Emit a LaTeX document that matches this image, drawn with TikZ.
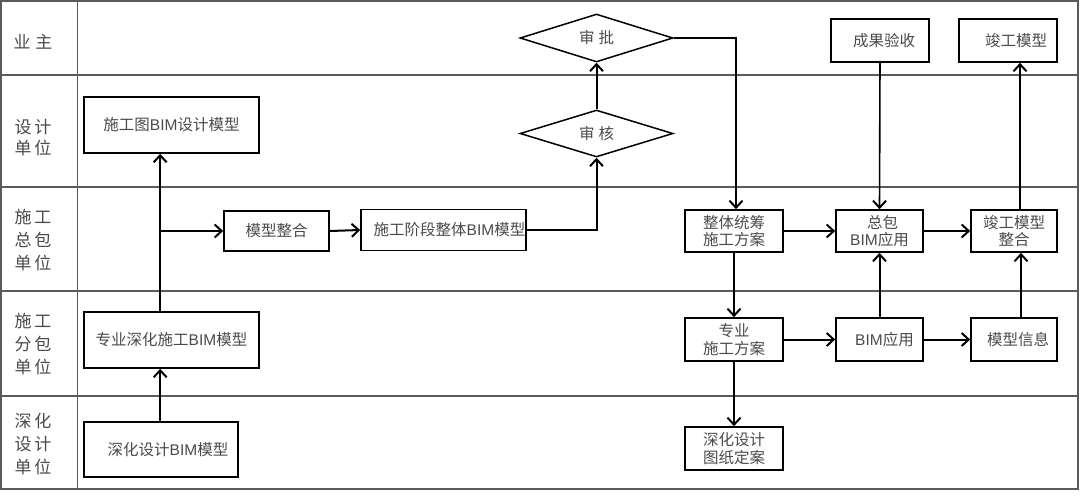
\documentclass[tikz,border=0pt]{standalone}
\usepackage{fontspec}
\setmainfont{Liberation Sans}
\newfontfamily\cjk{Noto Sans CJK SC}
\usetikzlibrary{arrows.meta,shapes.geometric}
\definecolor{txt}{HTML}{4A4A4A}
\definecolor{lane}{HTML}{5A5A5A}
\newcommand\bim{{\rmfamily BIM}}
\begin{document}
\begin{tikzpicture}[x=1pt,y=-1pt,
  bx/.style={draw=black, line width=1.7pt, inner sep=0pt, align=center,
    font=\cjk\fontsize{15.5}{19.5}\selectfont, text=txt},
  dm/.style={draw=black, line width=1.5pt, diamond, aspect=3.2, inner sep=0pt,
    font=\cjk\fontsize{15.5}{19}\selectfont, text=txt},
  arr/.style={line width=2pt, -{Straight Barb[length=7pt,width=13pt,line width=2pt]}},
  lanelbl/.style={align=center, font=\cjk\fontsize{17}{23}\selectfont, text=txt},
  laneline/.style={draw=lane, line width=1.2pt}]
\useasboundingbox (0,0) rectangle (1080,499);
% frame and lanes
\draw[laneline] (1,1) rectangle (1078,489);
\draw[laneline] (1,75) -- (1078,75);
\draw[laneline] (1,187) -- (1078,187);
\draw[laneline] (1,291) -- (1078,291);
\draw[laneline] (1,396) -- (1078,396);
\draw[laneline, line width=1pt] (77.5,1) -- (77.5,489);
% lane labels
\node[lanelbl] (l1) at (33,42) {业\hspace{5pt}主};
\node[lanelbl, font=\cjk\fontsize{17}{21}\selectfont] (l2) at (33,138) {设\hspace{3pt}计\\单\hspace{3pt}位};
\node[lanelbl] (l3) at (33,240) {施\hspace{3pt}工\\总\hspace{3pt}包\\单\hspace{3pt}位};
\node[lanelbl] (l4) at (33,344) {施\hspace{3pt}工\\分\hspace{3pt}包\\单\hspace{3pt}位};
\node[lanelbl] (l5) at (33,444) {深\hspace{3pt}化\\设\hspace{3pt}计\\单\hspace{3pt}位};
% boxes
\node[bx, minimum width=175pt, minimum height=56pt] (d1) at (171.5,125) {施工图\bim 设计模型};
\node[bx, minimum width=105pt, minimum height=40pt] (merge) at (276.5,231) {模型整合};
\node[bx, minimum width=165pt, minimum height=41pt] (whole) at (443.5,230) {\hspace*{12pt}施工阶段整体\bim 模型};
\node[bx, minimum width=175pt, minimum height=56pt] (zy) at (171.5,340) {专业深化施工\bim 模型};
\node[bx, minimum width=154pt, minimum height=55pt] (sh) at (161,449.5) {\hspace*{14pt}深化设计\bim 模型};
\node[dm, minimum width=153pt, minimum height=48pt] (sp) at (596.5,38) {审\hspace{4pt}批};
\node[dm, minimum width=153pt, minimum height=47pt] (sk) at (596.5,133.5) {审\hspace{4pt}核};
\node[bx, minimum width=98pt, minimum height=43pt] (cg) at (880,40.5) {\hspace*{8pt}成果验收};
\node[bx, minimum width=98pt, minimum height=43pt] (jg) at (1008,40.5) {\hspace*{16pt}竣工模型};
\node[bx, minimum width=98pt, minimum height=42pt] (tc) at (734,231) {\raisebox{-4pt}{\shortstack{整体统筹\\[0pt]施工方案}}};
\node[bx, minimum width=87pt, minimum height=42pt] (zb) at (879.5,231) {\raisebox{-4pt}{\shortstack{\hspace*{6pt}总包\\[0pt]\bim 应用}}};
\node[bx, minimum width=86pt, minimum height=42pt] (jz) at (1014,231) {\raisebox{-4pt}{\shortstack{竣工模型\\[0pt]整合}}};
\node[bx, minimum width=98pt, minimum height=43pt] (zs) at (734,339.5) {\raisebox{-1pt}{\shortstack{专业\\[0pt]施工方案}}};
\node[bx, minimum width=87pt, minimum height=43pt] (ba) at (879.5,339.5) {\hspace*{10pt}\bim 应用};
\node[bx, minimum width=86pt, minimum height=43pt] (mx) at (1014,339.5) {\hspace*{8pt}模型信息};
\node[bx, minimum width=98pt, minimum height=43pt] (tz) at (734,448.5) {\raisebox{-4pt}{\shortstack{深化设计\\[0pt]图纸定案}}};
% connectors
\coordinate (br) at ([xshift=77pt]zy.north west |- merge.west);
\draw[arr] ([xshift=77pt]zy.north west) -- ([xshift=77pt]d1.south west);
\draw[arr] (br) -- (merge.west);
\draw[arr] ([xshift=77pt]sh.north west) -- ([xshift=77pt]zy.south west);
\draw[arr] (merge.east) -- (whole.west);
\draw[arr] (whole.east) -| (sk.south);
\draw[arr] (sk.north) -- (sp.south);
\draw[arr] (sp.east) -| ([xshift=2pt]tc.north);
\draw[arr] (tc.east) -- (zb.west);
\draw[arr, line width=1.6pt] (cg.south) -- (zb.north);
\draw[arr] (zb.east) -- (jz.west);
\draw[arr] ([xshift=6pt]jz.north) -- ([xshift=6pt]jz.north |- jg.south);
\draw[arr] (tc.south) -- (zs.north);
\draw[arr] (zs.south) -- (tz.north);
\draw[arr] (zs.east) -- (ba.west);
\draw[arr] (ba.north) -- (zb.south);
\draw[arr] (ba.east) -- (mx.west);
\draw[arr] ([xshift=7pt]mx.north) -- ([xshift=7pt]mx.north |- jz.south);
\end{tikzpicture}
\end{document}
